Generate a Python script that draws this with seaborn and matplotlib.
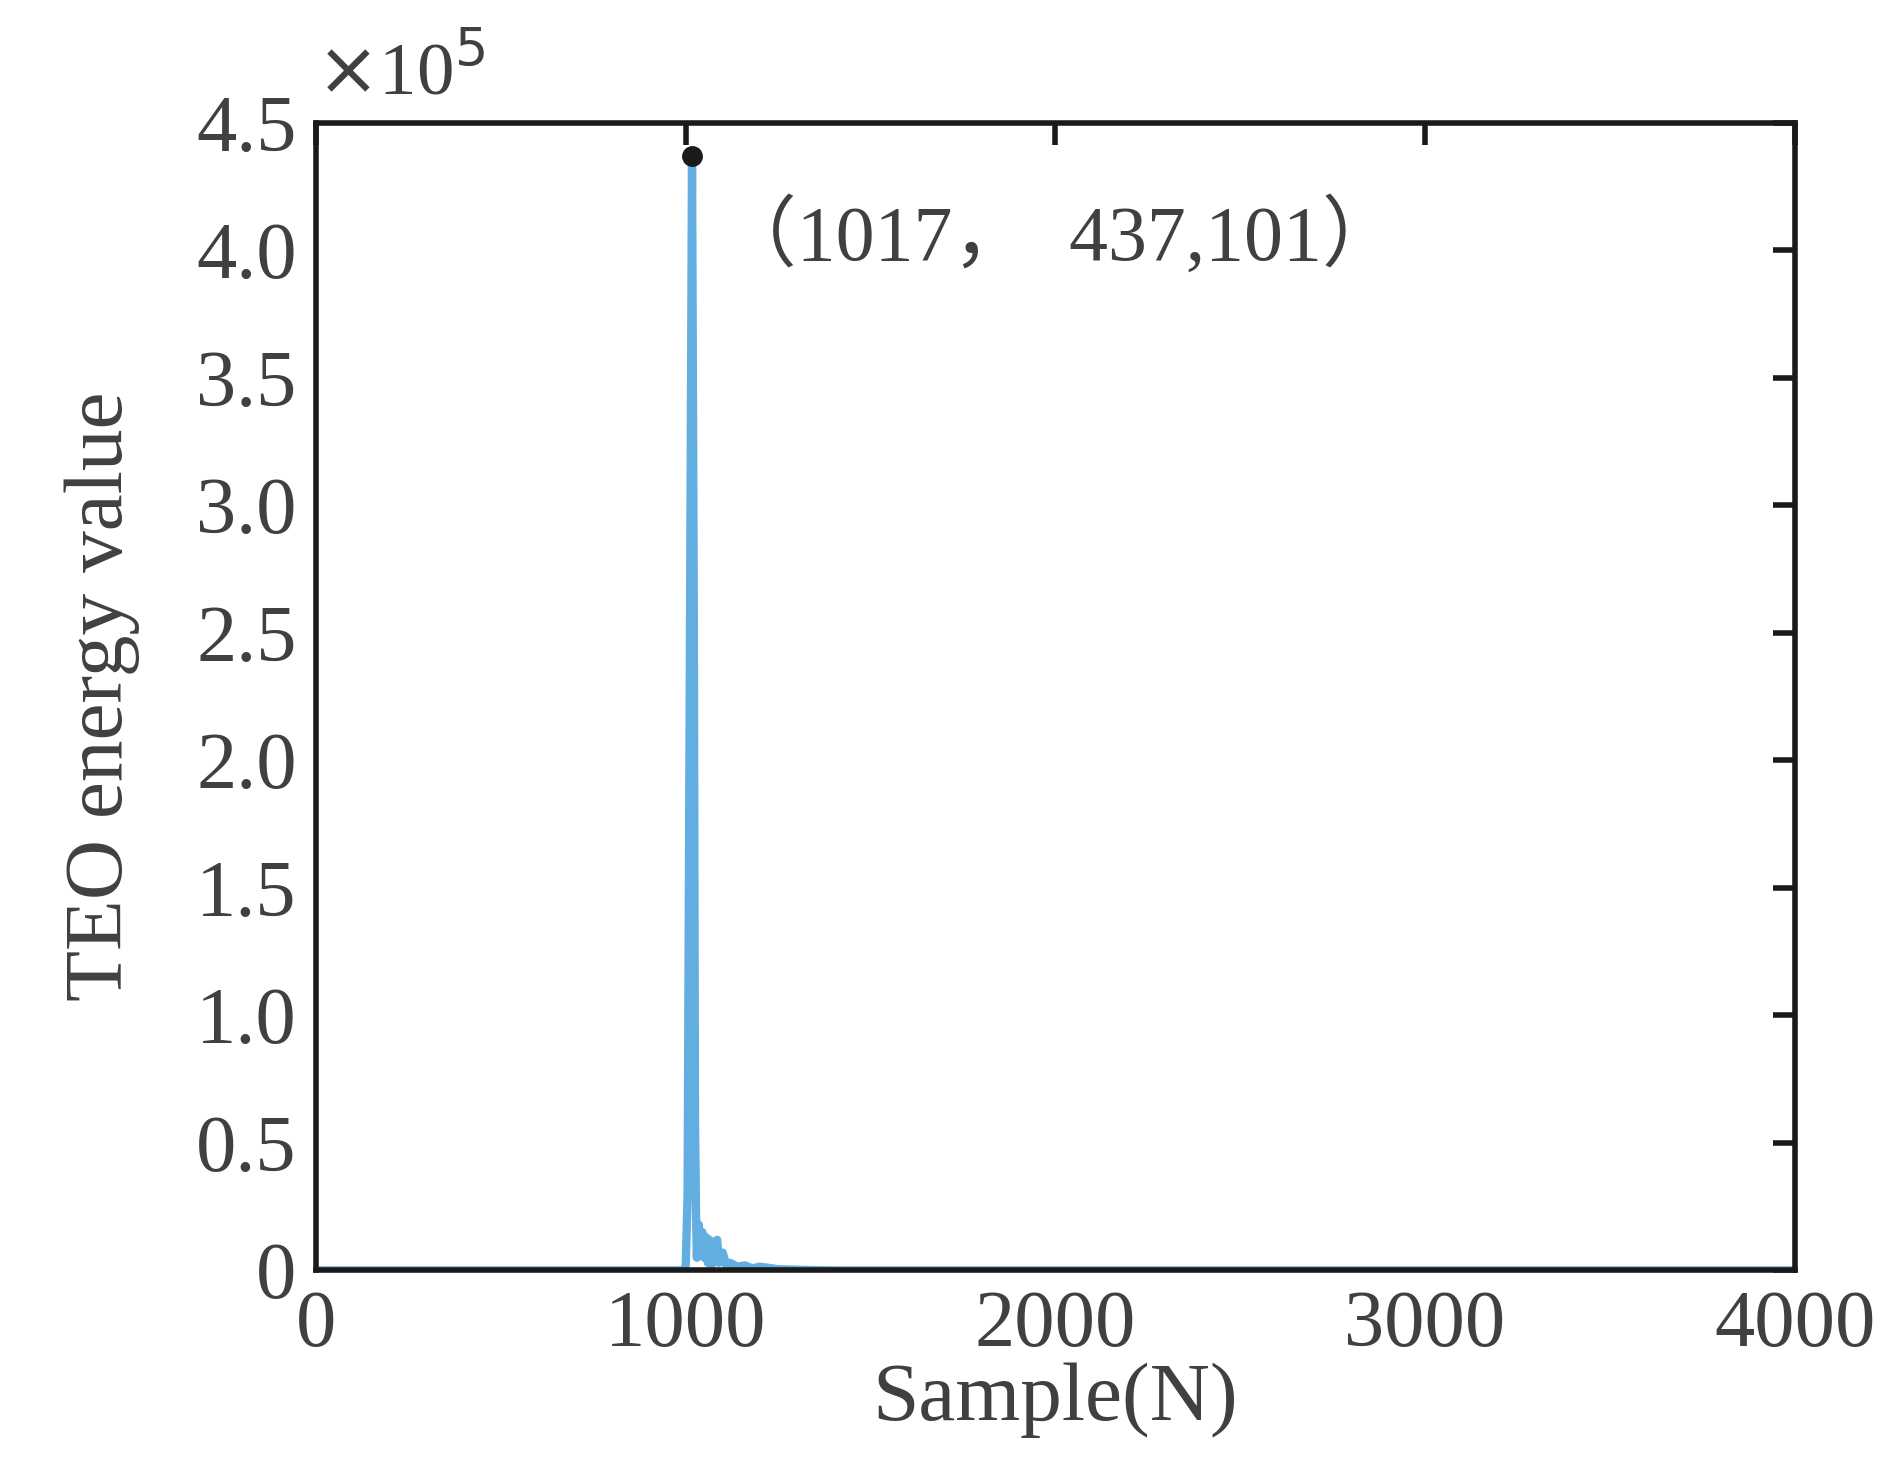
import matplotlib
matplotlib.use("Agg")
import matplotlib.pyplot as plt
import seaborn as sns
import pandas as pd

sample = [0, 995, 1000, 1005, 1010, 1017, 1022, 1025, 1028, 1030, 1035, 1040, 1045, 1050,
          1055, 1060, 1065, 1070, 1080, 1085, 1090, 1100, 1110, 1120, 1140, 1160, 1180,
          1200, 1250, 1300, 1400, 4000]
teo = [0, 0, 2000, 30000, 200000, 437101, 250000, 60000, 20000, 5000, 18000, 8000, 15000,
       5000, 13000, 3000, 12000, 2000, 10000, 12000, 3000, 7000, 2000, 3000, 1500, 2000,
       800, 1500, 500, 300, 0, 0]
peak_x, peak_y = 1017, 437101
yticks = [0, 50000, 100000, 150000, 200000, 250000, 300000, 350000, 400000, 450000]
ylabels = ["0", "0.5", "1.0", "1.5", "2.0", "2.5", "3.0", "3.5", "4.0", "4.5"]
xticks = [0, 1000, 2000, 3000, 4000]

sns.set_theme(style="white")
plt.rcParams['font.family'] = ['Liberation Serif', 'Noto Sans CJK SC']
tc = '#404040'
fig = plt.figure(figsize=(18.93, 14.79), dpi=100)
ax = fig.add_axes([0.167, 0.141, 0.781, 0.776])
df = pd.DataFrame({"x": sample, "y": teo})
sns.lineplot(data=df, x="x", y="y", ax=ax, color='#62AEE1', linewidth=6)
ax.plot([peak_x], [peak_y], 'o', color='#1a1a1a', markersize=14, zorder=5)
ax.text(1090, 405000, "（1017，  437,101）", fontsize=56, color=tc, va='center',
        family=['Liberation Serif', 'Noto Sans CJK SC'])
ax.set_xlim(0, 4000)
ax.set_ylim(0, 450000)
ax.set_xticks(xticks)
ax.set_xticklabels([str(v) for v in xticks])
ax.set_yticks(yticks)
ax.set_yticklabels(ylabels)
ax.tick_params(direction='in', length=16, width=4, top=True, right=True,
               labelsize=58, colors='#1a1a1a', labelcolor=tc, pad=14)
for s in ax.spines.values():
    s.set_linewidth(4)
    s.set_color('#1a1a1a')
ax.set_xlabel("Sample(N)", fontsize=60, color=tc, labelpad=0)
ax.set_ylabel("TEO energy value", fontsize=60, color=tc, labelpad=40)
ax.text(0.0, 1.01, r"$\times$10$^5$", transform=ax.transAxes, fontsize=54, color=tc,
        va='bottom', ha='left')
fig.savefig("out.png", dpi=100)
